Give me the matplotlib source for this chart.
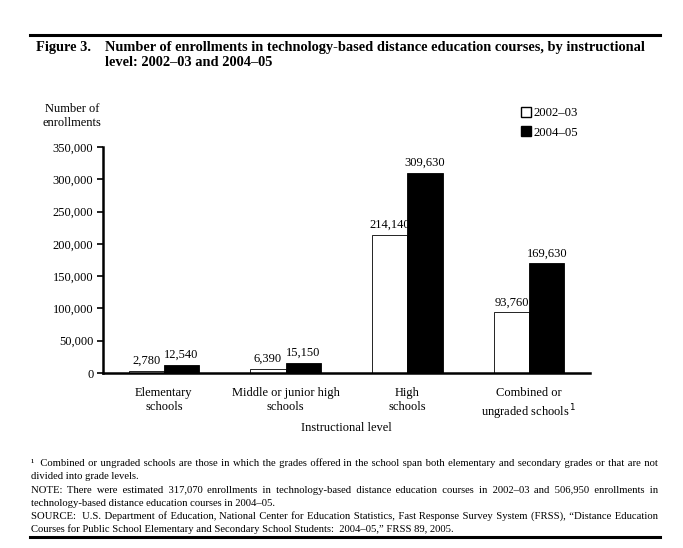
import matplotlib.pyplot as plt
from matplotlib.patches import Patch
from matplotlib.lines import Line2D
import numpy as np

plt.rcParams['font.family'] = ['Liberation Serif', 'DejaVu Serif']

# Data
categories = ['Elementary\nschools', 'Middle or junior high\nschools', 'High\nschools',
              'Combined or\nungraded schools$^{\\,1}$']
years = ['2002\u201303', '2004\u201305']
enroll_0203 = [2780, 6390, 214140, 93760]
enroll_0405 = [12540, 15150, 309630, 169630]
yticks = [0, 50000, 100000, 150000, 200000, 250000, 300000, 350000]

W, H = 683, 548
fig = plt.figure(figsize=(W / 100, H / 100), dpi=100)

def fx(px):
    return px / W

def fy(py):
    return 1 - py / H

# Axes placement in pixels
ax = fig.add_axes([fx(103), fy(373), fx(590) - fx(103), fy(147) - fy(373)])

x = np.arange(len(categories))
bw = 0.29
b1 = ax.bar(x - bw / 2, enroll_0203, bw, color='white', edgecolor='black', linewidth=0.6)
b2 = ax.bar(x + bw / 2, enroll_0405, bw, color='black', edgecolor='black', linewidth=0.6)

for bars, vals in ((b1, enroll_0203), (b2, enroll_0405)):
    for b, v in zip(bars, vals):
        ax.annotate(f'{v:,}', (b.get_x() + b.get_width() / 2, v), xytext=(0, 3),
                    textcoords='offset points', ha='center', va='bottom', fontsize=9)

ax.set_xlim(-0.5, 3.5)
ax.set_ylim(0, 350000)
ax.set_yticks(yticks)
ax.set_yticklabels([f'{t:,}' for t in yticks], fontsize=9)
ax.set_xticks(x)
ax.set_xticklabels(categories, fontsize=9, linespacing=1.25)
ax.tick_params(axis='x', length=0, pad=10)
ax.tick_params(axis='y', length=4, width=1.2, pad=3)
for s in ('top', 'right'):
    ax.spines[s].set_visible(False)
for s in ('left', 'bottom'):
    ax.spines[s].set_linewidth(1.8)

fig.text(fx(346), fy(428), 'Instructional level', ha='center', va='center', fontsize=9)
fig.text(fx(72), fy(116), 'Number of\nenrollments', ha='center', va='center', fontsize=9,
         linespacing=1.3)

handles = [Patch(facecolor='white', edgecolor='black', linewidth=1.0),
           Patch(facecolor='black', edgecolor='black')]
fig.legend(handles, years, loc='upper left', bbox_to_anchor=(fx(516), fy(102)),
           frameon=False, fontsize=9.2, handlelength=0.8, handleheight=0.8,
           handletextpad=0.2, labelspacing=0.55, borderaxespad=0)

# Title and rules
fig.add_artist(Line2D([fx(30), fx(660)], [fy(35), fy(35)], color='black', lw=2.2))
fig.text(fx(36), fy(47), 'Figure 3.', ha='left', va='center', fontsize=10.4, fontweight='bold')
fig.text(fx(105), fy(47), 'Number of enrollments in technology-based distance education courses, by instructional',
         ha='left', va='center', fontsize=10.4, fontweight='bold')
fig.text(fx(105), fy(63), 'level: 2002\u201303 and 2004\u201305',
         ha='left', va='center', fontsize=10.4, fontweight='bold')

# Footnotes; full lines justified by padding the gaps with hair spaces
notes = [
    (466, '\u00b9  Combined or ungraded schools are those in which the grades offered in the school span both elementary and secondary grades or that are not', True),
    (479, 'divided into grade levels.', False),
    (493, 'NOTE: There were estimated 317,070 enrollments in technology-based distance education courses in 2002\u201303 and 506,950 enrollments in', True),
    (506, 'technology-based distance education courses in 2004\u201305.', False),
    (519, 'SOURCE:  U.S. Department of Education, National Center for Education Statistics, Fast Response Survey System (FRSS), \u201cDistance Education', True),
    (532, 'Courses for Public School Elementary and Secondary School Students:  2004\u201305,\u201d FRSS 89, 2005.', False),
]
left, right = 31, 658
fs = 7.7
renderer = fig.canvas.get_renderer()

def text_width(s):
    t = fig.text(0, 0, s, fontsize=fs)
    w = t.get_window_extent(renderer).width
    t.remove()
    return w

hair = '\u200a'
hair_w = (text_width('x' + hair * 20 + 'x') - text_width('xx')) / 20

for py, t, justify in notes:
    if justify and hair_w > 0:
        words = t.split(' ')
        n = len(words) - 1
        extra = (right - left) - text_width(t)
        total = max(0, int(round(extra / hair_w)))
        out = words[0]
        for i, w in enumerate(words[1:]):
            k = total * (i + 1) // n - total * i // n
            out += ' ' + hair * k + w
        t = out
    fig.text(fx(left), fy(py), t, ha='left', va='baseline', fontsize=fs)
fig.add_artist(Line2D([fx(30), fx(660)], [fy(537), fy(537)], color='black', lw=2.2))

fig.savefig('out.png', dpi=100)
